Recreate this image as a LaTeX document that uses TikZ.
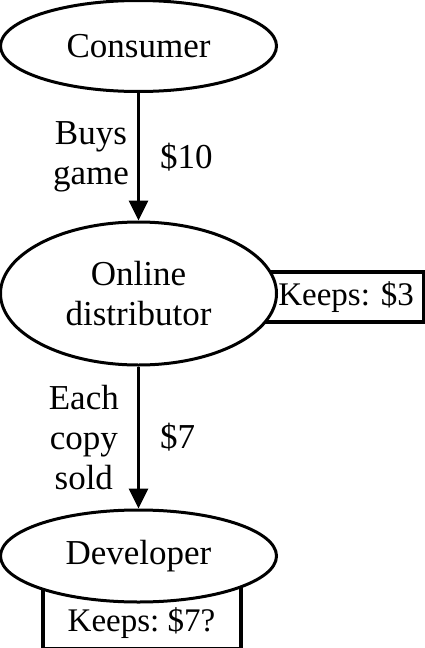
\documentclass[tikz,border=0pt]{standalone}
\usepackage{fontspec}
\setmainfont{Liberation Serif}
\usetikzlibrary{shapes.geometric, arrows.meta, positioning, backgrounds}
\frenchspacing

\begin{document}
\begin{tikzpicture}[
    x=0.5pt, y=-0.5pt,
    font=\fontsize{17.5}{20}\selectfont,
    party/.style={ellipse, draw, line width=1.5pt, fill=white, inner sep=0pt, minimum width=138pt, align=center},
    keepbox/.style={rectangle, draw, line width=2pt, fill=white, font=\fontsize{16.5}{20}\selectfont},
    flow/.style={line width=1.7pt, -{Triangle[length=10pt, width=9.5pt]}},
    note/.style={inner sep=0pt, align=center}
]
\useasboundingbox (0,0) rectangle (424,648);

% Parties in the chain
\node[party, minimum height=45.5pt] (cons) at (138.5,46) {Consumer};
\node[party, minimum height=71.5pt] (dist) at (138.5,293.5) {Online\\distributor};
\node[party, minimum height=46pt] (dev) at (138.5,556) {Developer};

% What each one keeps - boxes tucked behind the ellipses
\begin{scope}[on background layer]
\node[keepbox, right=-17pt of dist, yshift=-1.75pt, text width=79pt, align=right, inner xsep=5pt, minimum height=25pt] (keep3) {Keeps: \$3};
\node[keepbox, below=-21pt of dev, xshift=1.5pt, minimum width=99pt, text height=29.5pt, text depth=4pt, inner ysep=4.5pt] (keep7) {Keeps: \$7?};
\end{scope}

% Money flow
\draw[flow] (cons) -- (dist)
    node[note, midway, left=4pt] (buys) {Buys\\game}
    node[note, midway, right=10pt] (pay10) {\$10};
\draw[flow] (dist) -- (dev)
    node[note, midway, left=9pt] (each) {Each\\copy\\sold}
    node[note, midway, right=10pt] (pay7) {\$7};

\end{tikzpicture}
\end{document}
